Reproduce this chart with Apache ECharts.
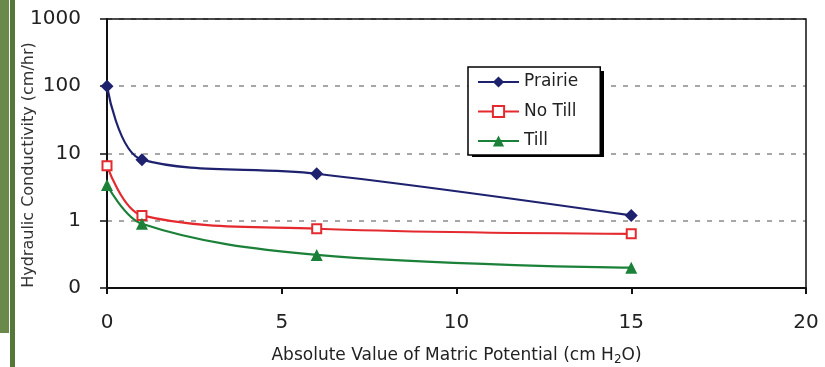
<!DOCTYPE html>
<html>
<head>
<meta charset="utf-8">
<script src="https://cdn.jsdelivr.net/npm/echarts@6/dist/echarts.min.js"></script>
<style>
  html, body { margin: 0; padding: 0; background: #fff; }
  #chart { width: 825px; height: 367px; }
</style>
</head>
<body>
<div id="chart"></div>
<script>
// matric potential (cm H2O)
var potential = [0, 1, 6, 15];
// hydraulic conductivity (cm/hr)
var prairie = [100, 8.1, 5.0, 1.2];
var noTill  = [6.6, 1.2, 0.76, 0.64];
var till    = [3.4, 0.9, 0.31, 0.20];

var xTicks = [0, 5, 10, 15, 20];

function pairs(ys) {
  return potential.map(function (x, i) { return [x, ys[i]]; });
}

var font = '"DejaVu Sans", "Liberation Sans", Arial, sans-serif';

var chart = echarts.init(document.getElementById('chart'));

var option = {
  backgroundColor: '#fff',
  animation: false,
  textStyle: { fontFamily: font },
  graphic: [
    { type: 'rect', shape: { x: 0, y: 0, width: 9, height: 333 }, style: { fill: '#6a8a4c' } },
    { type: 'rect', shape: { x: 10, y: 0, width: 5, height: 367 }, style: { fill: '#56773a' } },
    // drop shadow behind the legend box
    { type: 'rect', z: 3, shape: { x: 472, y: 71, width: 132, height: 86 }, style: { fill: '#000' } },
    {
      type: 'text', x: 29, y: 165, rotation: Math.PI / 2,
      style: {
        text: 'Hydraulic Conductivity (cm/hr)',
        font: '16px ' + font, fill: '#333',
        align: 'center', verticalAlign: 'middle'
      }
    }
  ],
  grid: {
    left: 107, right: 19, top: 19, bottom: 79,
    outerBoundsMode: 'none',
    show: true, borderColor: '#111', borderWidth: 1.5, z: 1
  },
  legend: {
    left: 468, top: 67,
    width: 132,
    orient: 'vertical',
    padding: [5, 22, 4, 9],
    itemGap: 9.5,
    itemWidth: 41, itemHeight: 14,
    backgroundColor: '#fff',
    borderColor: '#000', borderWidth: 1.5,
    textStyle: { fontFamily: font, fontSize: 17, lineHeight: 20, color: '#222' },
    data: ['Prairie', 'No Till', 'Till']
  },
  xAxis: {
    type: 'value',
    min: 0, max: 20, interval: 5,
    name: 'Absolute Value of Matric Potential (cm H{sub|2}O)',
    nameLocation: 'middle',
    nameGap: 58,
    nameTextStyle: {
      fontFamily: font, fontSize: 17, color: '#222',
      rich: { sub: { fontFamily: font, fontSize: 12, color: '#222', padding: [8, 0, 0, 0] } }
    },
    axisLine: { show: true, lineStyle: { color: '#111', width: 2 } },
    axisTick: { show: true, length: 6, lineStyle: { color: '#111', width: 2 } },
    axisLabel: { fontSize: 20, color: '#222', margin: 25,
      formatter: function (v) { return xTicks.indexOf(v) >= 0 ? String(v) : ''; } },
    splitLine: { show: false }
  },
  yAxis: {
    type: 'log',
    logBase: 10,
    min: 0.1, max: 1000,
    axisLine: { show: true, lineStyle: { color: '#111', width: 2 } },
    axisTick: { show: true, inside: false, length: 7, lineStyle: { color: '#111', width: 1.5 } },
    axisLabel: { fontSize: 20, color: '#222', margin: 26,
      formatter: function (v) { return v < 0.5 ? '0' : String(Math.round(v)); } },
    splitLine: { show: true, lineStyle: { color: '#8a8a8a', type: [5, 7], width: 1.5 } }
  },
  series: [
    {
      name: 'Prairie', type: 'line', smooth: 0.35,
      data: pairs(prairie),
      symbol: 'diamond', symbolSize: 13,
      lineStyle: { color: '#1e226e', width: 2.2 },
      itemStyle: { color: '#1e226e' }
    },
    {
      name: 'No Till', type: 'line', smooth: 0.35,
      data: pairs(noTill),
      symbol: 'rect', symbolSize: 9,
      lineStyle: { color: '#e42a2f', width: 2.2 },
      itemStyle: { color: '#fff', borderColor: '#e42a2f', borderWidth: 2 }
    },
    {
      name: 'Till', type: 'line', smooth: 0.35,
      data: pairs(till),
      symbol: 'triangle', symbolSize: 12,
      lineStyle: { color: '#1b8038', width: 2.2 },
      itemStyle: { color: '#1b8038' }
    }
  ]
};

chart.setOption(option);
</script>
</body>
</html>
